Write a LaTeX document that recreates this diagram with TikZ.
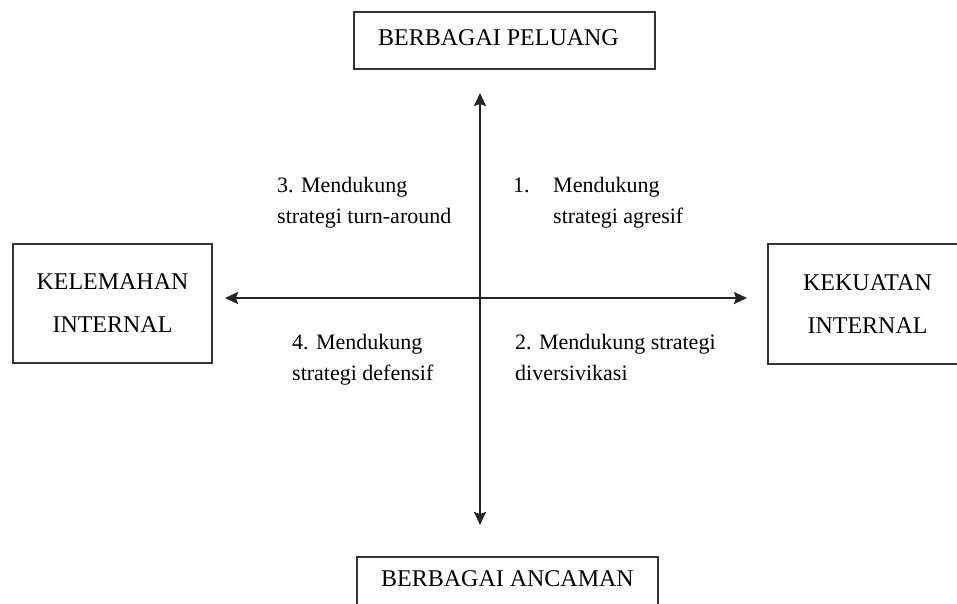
\documentclass[tikz,border=0pt]{standalone}
\usepackage{fontspec}
\setmainfont{Liberation Serif}
\usetikzlibrary{arrows.meta}
\tikzset{
  boxnode/.style={draw=black!80, line width=1.5pt, rectangle, inner sep=0pt, align=center,
    font=\fontsize{24}{43}\selectfont},
  quad/.style={anchor=base west, inner sep=0pt, align=left, font=\fontsize{22}{31}\selectfont},
  axis/.style={draw=black!85, line width=2pt, {Stealth[length=13pt,width=12pt,inset=2pt]}-{Stealth[length=13pt,width=12pt,inset=2pt]}}
}
\begin{document}
\begin{tikzpicture}[x=1pt,y=-1pt]
\clip (0,0) rectangle (957,603);
\fill[white] (0,0) rectangle (957,603);
% boxes
\node[boxnode, minimum width=301pt, minimum height=57pt, text height=16pt, text depth=7pt] (top) at (504.5,40.5) {BERBAGAI PELUANG\hspace*{12pt}};
\node[boxnode, minimum width=301pt, minimum height=57pt, text height=16pt, text depth=15pt] (bottom) at (507.5,585.5) {BERBAGAI ANCAMAN};
\node[boxnode, minimum width=199pt, minimum height=119pt] (left) at (112.5,303.5) {KELEMAHAN\\INTERNAL};
\node[boxnode, minimum width=199pt, minimum height=120pt] (right) at (867.5,304) {KEKUATAN\\INTERNAL};
% axes
\coordinate (vt) at (480,93);
\coordinate (vb) at (480,525);
\coordinate (hl) at (225,298);
\coordinate (hr) at (747,298);
\draw[axis] (vb) -- (vt);
\draw[axis] (hl) -- (hr);
% quadrant labels (anchor = baseline of the last line)
\node[quad] (q3) at (277,223) {3. Mendukung\\strategi turn-around};
\node[quad] (q1) at (513,223) {\makebox[40pt][l]{1.}Mendukung\\\hspace*{40pt}strategi agresif};
\node[quad] (q4) at (292,380) {4. Mendukung\\strategi defensif};
\node[quad] (q2) at (515,380) {2. Mendukung strategi\\diversivikasi};
\end{tikzpicture}
\end{document}
